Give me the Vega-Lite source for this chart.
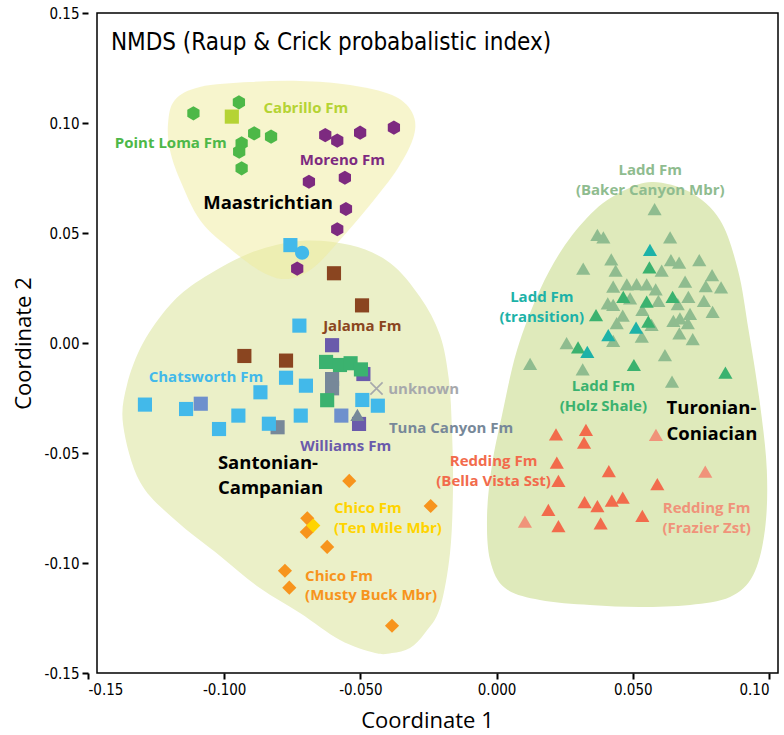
{
  "$schema": "https://vega.github.io/schema/vega-lite/v6.json",
  "width": 681,
  "height": 660,
  "autosize": {"type": "none"},
  "padding": {"left": 97, "top": 13, "right": 6, "bottom": 62},
  "background": "white",
  "config": {
    "view": {"stroke": "black", "strokeWidth": 1.5},
    "axisX": {"domain": false, "grid": false, "tickSize": 6, "tickWidth": 2, "tickColor": "black", "labelFont": "DejaVu Sans Condensed", "labelFontSize": 15, "labelColor": "black", "labelPadding": 3, "titleFont": "Open Sans", "titleFontSize": 22, "titleFontWeight": "normal", "titleColor": "black", "titlePadding": 13},
    "axisY": {"domain": false, "grid": false, "tickSize": 6, "tickWidth": 2, "tickColor": "black", "labelFont": "DejaVu Sans Condensed", "labelFontSize": 15, "labelColor": "black", "labelPadding": 3, "titleFont": "Open Sans", "titleFontSize": 22, "titleFontWeight": "normal", "titleColor": "black", "titlePadding": 9, "offset": 9}
  },
  "datasets": {
    "hulls": [
      {"h": "Santonian-Campanian", "i": 0, "x": -0.1371, "y": -0.0373},
      {"h": "Santonian-Campanian", "i": 1, "x": -0.1357, "y": -0.0191},
      {"h": "Santonian-Campanian", "i": 2, "x": -0.1298, "y": 0.0},
      {"h": "Santonian-Campanian", "i": 3, "x": -0.1199, "y": 0.0173},
      {"h": "Santonian-Campanian", "i": 4, "x": -0.1089, "y": 0.0286},
      {"h": "Santonian-Campanian", "i": 5, "x": -0.0905, "y": 0.0409},
      {"h": "Santonian-Campanian", "i": 6, "x": -0.0722, "y": 0.0464},
      {"h": "Santonian-Campanian", "i": 7, "x": -0.0538, "y": 0.0445},
      {"h": "Santonian-Campanian", "i": 8, "x": -0.0391, "y": 0.0364},
      {"h": "Santonian-Campanian", "i": 9, "x": -0.0281, "y": 0.0209},
      {"h": "Santonian-Campanian", "i": 10, "x": -0.0208, "y": 0.0036},
      {"h": "Santonian-Campanian", "i": 11, "x": -0.0175, "y": -0.0168},
      {"h": "Santonian-Campanian", "i": 12, "x": -0.0164, "y": -0.0395},
      {"h": "Santonian-Campanian", "i": 13, "x": -0.016, "y": -0.0655},
      {"h": "Santonian-Campanian", "i": 14, "x": -0.0171, "y": -0.0955},
      {"h": "Santonian-Campanian", "i": 15, "x": -0.0208, "y": -0.1205},
      {"h": "Santonian-Campanian", "i": 16, "x": -0.0263, "y": -0.1318},
      {"h": "Santonian-Campanian", "i": 17, "x": -0.0318, "y": -0.1386},
      {"h": "Santonian-Campanian", "i": 18, "x": -0.0384, "y": -0.1409},
      {"h": "Santonian-Campanian", "i": 19, "x": -0.0446, "y": -0.1409},
      {"h": "Santonian-Campanian", "i": 20, "x": -0.0575, "y": -0.135},
      {"h": "Santonian-Campanian", "i": 21, "x": -0.0722, "y": -0.1227},
      {"h": "Santonian-Campanian", "i": 22, "x": -0.0869, "y": -0.1114},
      {"h": "Santonian-Campanian", "i": 23, "x": -0.1015, "y": -0.0968},
      {"h": "Santonian-Campanian", "i": 24, "x": -0.118, "y": -0.0805},
      {"h": "Santonian-Campanian", "i": 25, "x": -0.1309, "y": -0.0632},
      {"h": "Turonian-Coniacian", "i": 0, "x": 0.0574, "y": 0.0732},
      {"h": "Turonian-Coniacian", "i": 1, "x": 0.071, "y": 0.0686},
      {"h": "Turonian-Coniacian", "i": 2, "x": 0.082, "y": 0.0559},
      {"h": "Turonian-Coniacian", "i": 3, "x": 0.0886, "y": 0.0332},
      {"h": "Turonian-Coniacian", "i": 4, "x": 0.0925, "y": 0.0059},
      {"h": "Turonian-Coniacian", "i": 5, "x": 0.0965, "y": -0.0259},
      {"h": "Turonian-Coniacian", "i": 6, "x": 0.0992, "y": -0.0577},
      {"h": "Turonian-Coniacian", "i": 7, "x": 0.0985, "y": -0.085},
      {"h": "Turonian-Coniacian", "i": 8, "x": 0.0942, "y": -0.1055},
      {"h": "Turonian-Coniacian", "i": 9, "x": 0.0857, "y": -0.1155},
      {"h": "Turonian-Coniacian", "i": 10, "x": 0.071, "y": -0.1191},
      {"h": "Turonian-Coniacian", "i": 11, "x": 0.0526, "y": -0.12},
      {"h": "Turonian-Coniacian", "i": 12, "x": 0.0343, "y": -0.1191},
      {"h": "Turonian-Coniacian", "i": 13, "x": 0.0159, "y": -0.1168},
      {"h": "Turonian-Coniacian", "i": 14, "x": 0.0031, "y": -0.1114},
      {"h": "Turonian-Coniacian", "i": 15, "x": -0.0024, "y": -0.0986},
      {"h": "Turonian-Coniacian", "i": 16, "x": -0.0035, "y": -0.0782},
      {"h": "Turonian-Coniacian", "i": 17, "x": -0.0017, "y": -0.0555},
      {"h": "Turonian-Coniacian", "i": 18, "x": 0.002, "y": -0.0327},
      {"h": "Turonian-Coniacian", "i": 19, "x": 0.0075, "y": -0.0032},
      {"h": "Turonian-Coniacian", "i": 20, "x": 0.0159, "y": 0.0241},
      {"h": "Turonian-Coniacian", "i": 21, "x": 0.0251, "y": 0.0445},
      {"h": "Turonian-Coniacian", "i": 22, "x": 0.0361, "y": 0.0605},
      {"h": "Turonian-Coniacian", "i": 23, "x": 0.0471, "y": 0.0695},
      {"h": "Maastrichtian", "i": 0, "x": -0.1206, "y": 0.1},
      {"h": "Maastrichtian", "i": 1, "x": -0.1181, "y": 0.1105},
      {"h": "Maastrichtian", "i": 2, "x": -0.1089, "y": 0.1164},
      {"h": "Maastrichtian", "i": 3, "x": -0.0905, "y": 0.1186},
      {"h": "Maastrichtian", "i": 4, "x": -0.0722, "y": 0.1191},
      {"h": "Maastrichtian", "i": 5, "x": -0.0538, "y": 0.1173},
      {"h": "Maastrichtian", "i": 6, "x": -0.0384, "y": 0.1127},
      {"h": "Maastrichtian", "i": 7, "x": -0.0311, "y": 0.105},
      {"h": "Maastrichtian", "i": 8, "x": -0.0303, "y": 0.0945},
      {"h": "Maastrichtian", "i": 9, "x": -0.0362, "y": 0.0795},
      {"h": "Maastrichtian", "i": 10, "x": -0.0465, "y": 0.0627},
      {"h": "Maastrichtian", "i": 11, "x": -0.0575, "y": 0.0468},
      {"h": "Maastrichtian", "i": 12, "x": -0.0674, "y": 0.0341},
      {"h": "Maastrichtian", "i": 13, "x": -0.0766, "y": 0.0291},
      {"h": "Maastrichtian", "i": 14, "x": -0.0861, "y": 0.0323},
      {"h": "Maastrichtian", "i": 15, "x": -0.0986, "y": 0.0436},
      {"h": "Maastrichtian", "i": 16, "x": -0.1089, "y": 0.0559},
      {"h": "Maastrichtian", "i": 17, "x": -0.1162, "y": 0.0741},
      {"h": "Maastrichtian", "i": 18, "x": -0.1199, "y": 0.0877}
    ],
    "pts": [
      {"g": "Point Loma Fm", "m": "hex", "x": -0.1113, "y": 0.1044},
      {"g": "Point Loma Fm", "m": "hex", "x": -0.0946, "y": 0.1094},
      {"g": "Point Loma Fm", "m": "hex", "x": -0.089, "y": 0.0953},
      {"g": "Point Loma Fm", "m": "hex", "x": -0.0828, "y": 0.0938},
      {"g": "Point Loma Fm", "m": "hex", "x": -0.0936, "y": 0.0908},
      {"g": "Point Loma Fm", "m": "hex", "x": -0.0945, "y": 0.087},
      {"g": "Point Loma Fm", "m": "hex", "x": -0.0936, "y": 0.0794},
      {"g": "Cabrillo Fm", "m": "sq", "x": -0.0972, "y": 0.1029},
      {"g": "Moreno Fm", "m": "hex", "x": -0.0629, "y": 0.0945},
      {"g": "Moreno Fm", "m": "hex", "x": -0.0585, "y": 0.092},
      {"g": "Moreno Fm", "m": "hex", "x": -0.0501, "y": 0.0956},
      {"g": "Moreno Fm", "m": "hex", "x": -0.0377, "y": 0.0979},
      {"g": "Moreno Fm", "m": "hex", "x": -0.0689, "y": 0.0733},
      {"g": "Moreno Fm", "m": "hex", "x": -0.0557, "y": 0.0751},
      {"g": "Moreno Fm", "m": "hex", "x": -0.0553, "y": 0.0609},
      {"g": "Moreno Fm", "m": "hex", "x": -0.0585, "y": 0.0517},
      {"g": "Moreno Fm", "m": "hex", "x": -0.0732, "y": 0.0338},
      {"g": "Chatsworth Fm", "m": "sq", "x": -0.0757, "y": 0.0445},
      {"g": "Chatsworth Fm", "m": "circ", "x": -0.0714, "y": 0.041},
      {"g": "Chatsworth Fm", "m": "sq", "x": -0.0724, "y": 0.0079},
      {"g": "Chatsworth Fm", "m": "sq", "x": -0.0773, "y": -0.0158},
      {"g": "Chatsworth Fm", "m": "sq", "x": -0.07, "y": -0.0194},
      {"g": "Chatsworth Fm", "m": "sq", "x": -0.0867, "y": -0.0224},
      {"g": "Chatsworth Fm", "m": "sq", "x": -0.1291, "y": -0.028},
      {"g": "Chatsworth Fm", "m": "sq", "x": -0.114, "y": -0.03},
      {"g": "Chatsworth Fm", "m": "sq", "x": -0.0493, "y": -0.0259},
      {"g": "Chatsworth Fm", "m": "sq", "x": -0.0436, "y": -0.0285},
      {"g": "Chatsworth Fm", "m": "sq", "x": -0.0948, "y": -0.033},
      {"g": "Chatsworth Fm", "m": "sq", "x": -0.0719, "y": -0.033},
      {"g": "Chatsworth Fm", "m": "sq", "x": -0.1019, "y": -0.0391},
      {"g": "Tuna Canyon Fm", "m": "sq", "x": -0.0804, "y": -0.0383},
      {"g": "Chatsworth Fm", "m": "sq", "x": -0.0836, "y": -0.0367},
      {"g": "Jalama Fm", "m": "sq", "x": -0.0597, "y": 0.0317},
      {"g": "Jalama Fm", "m": "sq", "x": -0.0494, "y": 0.0171},
      {"g": "Jalama Fm", "m": "sq", "x": -0.0926, "y": -0.0059},
      {"g": "Jalama Fm", "m": "sq", "x": -0.0773, "y": -0.008},
      {"g": "Williams Fm", "m": "sq", "x": -0.0604, "y": -0.001},
      {"g": "Williams Fm", "m": "sq", "x": -0.0489, "y": -0.0141},
      {"g": "Williams Fm", "m": "sq", "x": -0.0505, "y": -0.0368},
      {"g": "Unlabelled (blue)", "m": "sq", "x": -0.1086, "y": -0.0276},
      {"g": "Unlabelled (blue)", "m": "sq", "x": -0.057, "y": -0.033},
      {"g": "Tuna Canyon Fm", "m": "sq", "x": -0.0604, "y": -0.0164},
      {"g": "Tuna Canyon Fm", "m": "sq", "x": -0.0604, "y": -0.0206},
      {"g": "Tuna Canyon Fm", "m": "tri", "x": -0.0511, "y": -0.0327},
      {"g": "Unlabelled (green)", "m": "sq", "x": -0.0626, "y": -0.0086},
      {"g": "Unlabelled (green)", "m": "sq", "x": -0.0575, "y": -0.01},
      {"g": "Unlabelled (green)", "m": "sq", "x": -0.0536, "y": -0.0092},
      {"g": "Unlabelled (green)", "m": "sq", "x": -0.0498, "y": -0.012},
      {"g": "Unlabelled (green)", "m": "sq", "x": -0.0622, "y": -0.026},
      {"g": "unknown", "m": "x", "x": -0.0441, "y": -0.0207},
      {"g": "Chico Fm (Musty Buck Mbr)", "m": "dia", "x": -0.0541, "y": -0.0627},
      {"g": "Chico Fm (Musty Buck Mbr)", "m": "dia", "x": -0.0242, "y": -0.0741},
      {"g": "Chico Fm (Musty Buck Mbr)", "m": "dia", "x": -0.0695, "y": -0.0797},
      {"g": "Chico Fm (Musty Buck Mbr)", "m": "dia", "x": -0.0697, "y": -0.0859},
      {"g": "Chico Fm (Musty Buck Mbr)", "m": "dia", "x": -0.0622, "y": -0.0927},
      {"g": "Chico Fm (Musty Buck Mbr)", "m": "dia", "x": -0.0777, "y": -0.1035},
      {"g": "Chico Fm (Musty Buck Mbr)", "m": "dia", "x": -0.0761, "y": -0.1112},
      {"g": "Chico Fm (Musty Buck Mbr)", "m": "dia", "x": -0.0384, "y": -0.1285},
      {"g": "Chico Fm (Ten Mile Mbr)", "m": "dia", "x": -0.0673, "y": -0.083},
      {"g": "Ladd Fm (Baker Canyon Mbr)", "m": "tri", "x": 0.058, "y": 0.0608},
      {"g": "Ladd Fm (Baker Canyon Mbr)", "m": "tri", "x": 0.037, "y": 0.0491},
      {"g": "Ladd Fm (Baker Canyon Mbr)", "m": "tri", "x": 0.0392, "y": 0.048},
      {"g": "Ladd Fm (Baker Canyon Mbr)", "m": "tri", "x": 0.0637, "y": 0.048},
      {"g": "Ladd Fm (Baker Canyon Mbr)", "m": "tri", "x": 0.0421, "y": 0.038},
      {"g": "Ladd Fm (Baker Canyon Mbr)", "m": "tri", "x": 0.064, "y": 0.0377},
      {"g": "Ladd Fm (Baker Canyon Mbr)", "m": "tri", "x": 0.067, "y": 0.0365},
      {"g": "Ladd Fm (Baker Canyon Mbr)", "m": "tri", "x": 0.0744, "y": 0.0377},
      {"g": "Ladd Fm (Baker Canyon Mbr)", "m": "tri", "x": 0.0318, "y": 0.0338},
      {"g": "Ladd Fm (Baker Canyon Mbr)", "m": "tri", "x": 0.0437, "y": 0.0329},
      {"g": "Ladd Fm (Baker Canyon Mbr)", "m": "tri", "x": 0.0606, "y": 0.0329},
      {"g": "Ladd Fm (Baker Canyon Mbr)", "m": "tri", "x": 0.0791, "y": 0.0309},
      {"g": "Ladd Fm (Baker Canyon Mbr)", "m": "tri", "x": 0.0692, "y": 0.0279},
      {"g": "Ladd Fm (Baker Canyon Mbr)", "m": "tri", "x": 0.0428, "y": 0.0256},
      {"g": "Ladd Fm (Baker Canyon Mbr)", "m": "tri", "x": 0.0478, "y": 0.0267},
      {"g": "Ladd Fm (Baker Canyon Mbr)", "m": "tri", "x": 0.0514, "y": 0.0268},
      {"g": "Ladd Fm (Baker Canyon Mbr)", "m": "tri", "x": 0.0551, "y": 0.0267},
      {"g": "Ladd Fm (Baker Canyon Mbr)", "m": "tri", "x": 0.0584, "y": 0.0244},
      {"g": "Ladd Fm (Baker Canyon Mbr)", "m": "tri", "x": 0.0768, "y": 0.0259},
      {"g": "Ladd Fm (Baker Canyon Mbr)", "m": "tri", "x": 0.0824, "y": 0.0253},
      {"g": "Ladd Fm (Baker Canyon Mbr)", "m": "tri", "x": 0.0704, "y": 0.021},
      {"g": "Ladd Fm (Baker Canyon Mbr)", "m": "tri", "x": 0.049, "y": 0.0203},
      {"g": "Ladd Fm (Baker Canyon Mbr)", "m": "tri", "x": 0.0594, "y": 0.0191},
      {"g": "Ladd Fm (Baker Canyon Mbr)", "m": "tri", "x": 0.0408, "y": 0.018},
      {"g": "Ladd Fm (Baker Canyon Mbr)", "m": "tri", "x": 0.0428, "y": 0.0173},
      {"g": "Ladd Fm (Baker Canyon Mbr)", "m": "tri", "x": 0.0761, "y": 0.0192},
      {"g": "Ladd Fm (Baker Canyon Mbr)", "m": "tri", "x": 0.0665, "y": 0.0177},
      {"g": "Ladd Fm (Baker Canyon Mbr)", "m": "tri", "x": 0.0535, "y": 0.015},
      {"g": "Ladd Fm (Baker Canyon Mbr)", "m": "tri", "x": 0.0793, "y": 0.0142},
      {"g": "Ladd Fm (Baker Canyon Mbr)", "m": "tri", "x": 0.0463, "y": 0.0124},
      {"g": "Ladd Fm (Baker Canyon Mbr)", "m": "tri", "x": 0.071, "y": 0.0132},
      {"g": "Ladd Fm (Baker Canyon Mbr)", "m": "tri", "x": 0.0441, "y": 0.009},
      {"g": "Ladd Fm (Baker Canyon Mbr)", "m": "tri", "x": 0.0649, "y": 0.0101},
      {"g": "Ladd Fm (Baker Canyon Mbr)", "m": "tri", "x": 0.0673, "y": 0.0112},
      {"g": "Ladd Fm (Baker Canyon Mbr)", "m": "tri", "x": 0.0569, "y": 0.0082},
      {"g": "Ladd Fm (Baker Canyon Mbr)", "m": "tri", "x": 0.0702, "y": 0.009},
      {"g": "Ladd Fm (Baker Canyon Mbr)", "m": "tri", "x": 0.0671, "y": 0.0044},
      {"g": "Ladd Fm (Baker Canyon Mbr)", "m": "tri", "x": 0.0533, "y": 0.0029},
      {"g": "Ladd Fm (Baker Canyon Mbr)", "m": "tri", "x": 0.072, "y": 0.0018},
      {"g": "Ladd Fm (Baker Canyon Mbr)", "m": "tri", "x": 0.0428, "y": 0.001},
      {"g": "Ladd Fm (Baker Canyon Mbr)", "m": "tri", "x": 0.0257, "y": -0.0001},
      {"g": "Ladd Fm (Baker Canyon Mbr)", "m": "tri", "x": 0.0123, "y": -0.0095},
      {"g": "Ladd Fm (Baker Canyon Mbr)", "m": "tri", "x": 0.0316, "y": -0.012},
      {"g": "Ladd Fm (Baker Canyon Mbr)", "m": "tri", "x": 0.0618, "y": -0.0055},
      {"g": "Ladd Fm (Baker Canyon Mbr)", "m": "tri", "x": 0.0644, "y": -0.0176},
      {"g": "Ladd Fm (Holz Shale)", "m": "tri", "x": 0.0561, "y": 0.0344},
      {"g": "Ladd Fm (Holz Shale)", "m": "tri", "x": 0.0465, "y": 0.021},
      {"g": "Ladd Fm (Holz Shale)", "m": "tri", "x": 0.0551, "y": 0.0188},
      {"g": "Ladd Fm (Holz Shale)", "m": "tri", "x": 0.0646, "y": 0.021},
      {"g": "Ladd Fm (Holz Shale)", "m": "tri", "x": 0.0365, "y": 0.0127},
      {"g": "Ladd Fm (Holz Shale)", "m": "tri", "x": 0.0557, "y": 0.0097},
      {"g": "Ladd Fm (Holz Shale)", "m": "tri", "x": 0.0299, "y": -0.002},
      {"g": "Ladd Fm (Holz Shale)", "m": "tri", "x": 0.0504, "y": -0.01},
      {"g": "Ladd Fm (Holz Shale)", "m": "tri", "x": 0.084, "y": -0.0135},
      {"g": "Ladd Fm (transition)", "m": "tri", "x": 0.0563, "y": 0.0423},
      {"g": "Ladd Fm (transition)", "m": "tri", "x": 0.0512, "y": 0.007},
      {"g": "Ladd Fm (transition)", "m": "tri", "x": 0.041, "y": 0.0036},
      {"g": "Ladd Fm (transition)", "m": "tri", "x": 0.0333, "y": -0.004},
      {"g": "Redding Fm (Bella Vista Sst)", "m": "tri", "x": 0.0218, "y": -0.0415},
      {"g": "Redding Fm (Bella Vista Sst)", "m": "tri", "x": 0.0328, "y": -0.0395},
      {"g": "Redding Fm (Bella Vista Sst)", "m": "tri", "x": 0.0321, "y": -0.0453},
      {"g": "Redding Fm (Bella Vista Sst)", "m": "tri", "x": 0.0221, "y": -0.0544},
      {"g": "Redding Fm (Bella Vista Sst)", "m": "tri", "x": 0.0412, "y": -0.0582},
      {"g": "Redding Fm (Bella Vista Sst)", "m": "tri", "x": 0.0227, "y": -0.0627},
      {"g": "Redding Fm (Bella Vista Sst)", "m": "tri", "x": 0.059, "y": -0.0641},
      {"g": "Redding Fm (Bella Vista Sst)", "m": "tri", "x": 0.0323, "y": -0.0723},
      {"g": "Redding Fm (Bella Vista Sst)", "m": "tri", "x": 0.037, "y": -0.0741},
      {"g": "Redding Fm (Bella Vista Sst)", "m": "tri", "x": 0.0423, "y": -0.0717},
      {"g": "Redding Fm (Bella Vista Sst)", "m": "tri", "x": 0.0463, "y": -0.0703},
      {"g": "Redding Fm (Bella Vista Sst)", "m": "tri", "x": 0.019, "y": -0.0759},
      {"g": "Redding Fm (Bella Vista Sst)", "m": "tri", "x": 0.0535, "y": -0.0786},
      {"g": "Redding Fm (Bella Vista Sst)", "m": "tri", "x": 0.0227, "y": -0.0832},
      {"g": "Redding Fm (Bella Vista Sst)", "m": "tri", "x": 0.0382, "y": -0.082},
      {"g": "Redding Fm (Frazier Zst)", "m": "tri", "x": 0.0585, "y": -0.0418},
      {"g": "Redding Fm (Frazier Zst)", "m": "tri", "x": 0.0766, "y": -0.0585},
      {"g": "Redding Fm (Frazier Zst)", "m": "tri", "x": 0.0104, "y": -0.0812}
    ],
    "labs": [
      {"k": "title", "g": "title", "t": ["NMDS (Raup & Crick probabalistic index)"], "x": -0.1416, "y": 0.1332},
      {"k": "fm", "g": "Cabrillo Fm", "t": ["Cabrillo Fm"], "x": -0.07, "y": 0.1067},
      {"k": "fm", "g": "Point Loma Fm", "t": ["Point Loma Fm"], "x": -0.1196, "y": 0.0908},
      {"k": "fm", "g": "Moreno Fm", "t": ["Moreno Fm"], "x": -0.0566, "y": 0.0832},
      {"k": "fm", "g": "Jalama Fm", "t": ["Jalama Fm"], "x": -0.0493, "y": 0.0079},
      {"k": "fm", "g": "Chatsworth Fm", "t": ["Chatsworth Fm"], "x": -0.1067, "y": -0.0153},
      {"k": "fm", "g": "unknown", "t": ["unknown"], "x": -0.0268, "y": -0.0209},
      {"k": "fm", "g": "Tuna Canyon Fm", "t": ["Tuna Canyon Fm"], "x": -0.0167, "y": -0.0386},
      {"k": "fm", "g": "Williams Fm", "t": ["Williams Fm"], "x": -0.0554, "y": -0.0468},
      {"k": "fm", "g": "Ladd Fm (Baker Canyon Mbr)", "t": ["Ladd Fm", "(Baker Canyon Mbr)"], "x": 0.0564, "y": 0.0786},
      {"k": "fm", "g": "Ladd Fm (transition)", "t": ["Ladd Fm", "(transition)"], "x": 0.0166, "y": 0.021},
      {"k": "fm", "g": "Ladd Fm (Holz Shale)", "t": ["Ladd Fm", "(Holz Shale)"], "x": 0.0392, "y": -0.0195},
      {"k": "fm", "g": "Redding Fm (Bella Vista Sst)", "t": ["Redding Fm", "(Bella Vista Sst)"], "x": -0.0011, "y": -0.0536},
      {"k": "fm", "g": "Redding Fm (Frazier Zst)", "t": ["Redding Fm", "(Frazier Zst)"], "x": 0.0771, "y": -0.0751},
      {"k": "chico", "g": "Chico Fm (Ten Mile Mbr)", "t": ["Chico Fm", "(Ten Mile Mbr)"], "x": -0.0597, "y": -0.0751},
      {"k": "chico", "g": "Chico Fm (Musty Buck Mbr)", "t": ["Chico Fm", "(Musty Buck Mbr)"], "x": -0.0703, "y": -0.1059},
      {"k": "region", "g": "region", "t": ["Maastrichtian"], "x": -0.1077, "y": 0.0635},
      {"k": "region", "g": "region", "t": ["Santonian-", "Campanian"], "x": -0.1023, "y": -0.0545},
      {"k": "region", "g": "region", "t": ["Turonian-", "Coniacian"], "x": 0.0624, "y": -0.0297}
    ]
  },
  "encoding": {
    "x": {"field": "x", "type": "quantitative", "title": "Coordinate 1", "scale": {"domain": [-0.15, 0.1], "range": [-9, 672], "nice": false, "zero": false},
      "axis": {"values": [-0.15, -0.1, -0.05, 0, 0.05, 0.1], "titleX": 330, "labelExpr": "(datum.value < 0 ? '-' : '') + format(abs(datum.value), (datum.value == -0.15 || datum.value == 0.1) ? '.2f' : '.3f')"}},
    "y": {"field": "y", "type": "quantitative", "title": "Coordinate 2", "scale": {"domain": [-0.15, 0.15], "nice": false, "zero": false},
      "axis": {"values": [-0.15, -0.1, -0.05, 0, 0.05, 0.1, 0.15], "labelExpr": "(datum.value < 0 ? '-' : '') + format(abs(datum.value), '.2f')"}}
  },
  "layer": [
    {
      "data": {"name": "hulls"},
      "transform": [{"filter": "datum.h == 'Santonian-Campanian'"}],
      "mark": {"type": "line", "interpolate": "cardinal-closed", "fill": "#ebf0c8", "strokeWidth": 0},
      "encoding": {"order": {"field": "i", "type": "quantitative"}}
    },
    {
      "data": {"name": "hulls"},
      "transform": [{"filter": "datum.h == 'Turonian-Coniacian'"}],
      "mark": {"type": "line", "interpolate": "cardinal-closed", "fill": "#dfeabb", "strokeWidth": 0},
      "encoding": {"order": {"field": "i", "type": "quantitative"}}
    },
    {
      "data": {"name": "hulls"},
      "transform": [{"filter": "datum.h == 'Maastrichtian'"}],
      "mark": {"type": "line", "interpolate": "cardinal-closed", "fill": "#efec9c", "fillOpacity": 0.5, "strokeWidth": 0},
      "encoding": {"order": {"field": "i", "type": "quantitative"}}
    },
    {
      "data": {"name": "pts"},
      "transform": [{"filter": "datum.m != 'x'"}],
      "mark": {"type": "point", "filled": true, "opacity": 1, "strokeWidth": 0},
      "encoding": {
        "color": {"field": "g", "type": "nominal", "legend": null, "scale": {
          "domain": ["Point Loma Fm", "Cabrillo Fm", "Moreno Fm", "Chatsworth Fm", "Jalama Fm", "Williams Fm", "Tuna Canyon Fm", "Unlabelled (green)", "Unlabelled (blue)", "Chico Fm (Ten Mile Mbr)", "Chico Fm (Musty Buck Mbr)", "Ladd Fm (Baker Canyon Mbr)", "Ladd Fm (transition)", "Ladd Fm (Holz Shale)", "Redding Fm (Bella Vista Sst)", "Redding Fm (Frazier Zst)", "unknown", "region", "title"],
          "range": ["#4db848", "#b5d334", "#7d2a80", "#42b9ea", "#8a4520", "#6a5aab", "#778899", "#3bb26f", "#6e90cd", "#ffd400", "#f7941d", "#8fbc8f", "#1db2a8", "#3bb26f", "#f26b4c", "#f0937a", "#a7a9ac", "#000000", "#000000"]}},
        "shape": {"field": "m", "type": "nominal", "legend": null, "scale": {"domain": ["hex", "sq", "circ", "dia", "tri"], "range": ["M0,-1L0.866,-0.5L0.866,0.5L0,1L-0.866,0.5L-0.866,-0.5Z", "square", "circle", "diamond", "triangle-up"]}},
        "size": {"field": "m", "type": "nominal", "legend": null, "scale": {"domain": ["hex", "sq", "circ", "dia", "tri"], "range": [200, 200, 170, 180, 170]}}
      }
    },
    {
      "data": {"name": "pts"},
      "transform": [{"filter": "datum.m == 'x'"}],
      "mark": {"type": "point", "filled": false, "shape": "M-1,-1L1,1M-1,1L1,-1", "size": 150, "stroke": "#a7a9ac", "strokeWidth": 1.6, "opacity": 1},
      "encoding": {}
    },
    {
      "data": {"name": "labs"},
      "transform": [{"filter": "datum.k == 'title'"}],
      "mark": {"type": "text", "align": "left", "baseline": "alphabetic", "font": "DejaVu Sans Condensed", "fontSize": 24, "color": "black"},
      "encoding": {"text": {"field": "t"}}
    },
    {
      "data": {"name": "labs"},
      "transform": [{"filter": "datum.k == 'fm'"}],
      "mark": {"type": "text", "align": "center", "baseline": "middle", "font": "Open Sans", "fontWeight": "bold", "fontSize": 15, "lineHeight": 20},
      "encoding": {"text": {"field": "t"}, "color": {"field": "g", "type": "nominal", "legend": null}}
    },
    {
      "data": {"name": "labs"},
      "transform": [{"filter": "datum.k == 'chico'"}],
      "mark": {"type": "text", "align": "left", "baseline": "middle", "font": "Open Sans", "fontWeight": "bold", "fontSize": 15, "lineHeight": 19.5},
      "encoding": {"text": {"field": "t"}, "color": {"field": "g", "type": "nominal", "legend": null}}
    },
    {
      "data": {"name": "labs"},
      "transform": [{"filter": "datum.k == 'region'"}],
      "mark": {"type": "text", "align": "left", "baseline": "middle", "font": "Open Sans", "fontWeight": "bold", "fontSize": 18.5, "lineHeight": 25.5, "color": "black"},
      "encoding": {"text": {"field": "t"}}
    }
  ]
}
